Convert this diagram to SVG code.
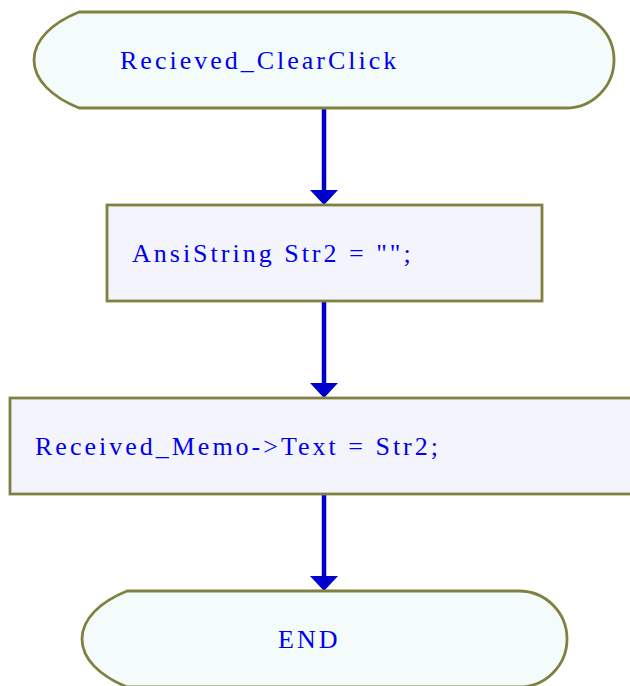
<svg xmlns="http://www.w3.org/2000/svg" width="630" height="686" viewBox="0 0 630 686">
  <style>
    .term { fill: #f3fcfa; stroke: #808040; stroke-width: 2.8; }
    .proc { fill: #f4f4fc; stroke: #808040; stroke-width: 2.8; }
    .lbl { font-family: "Liberation Serif", "Times New Roman", serif; font-size: 26px; letter-spacing: 3px; fill: #0000ee; }
    .flow { stroke: #0000cc; stroke-width: 4.5; fill: none; }
    .head { fill: #0000cc; }
  </style>
  <rect width="630" height="686" fill="#ffffff"/>

  <g id="connectors">
    <line class="flow" x1="324" y1="108" x2="324" y2="192"/>
    <polygon class="head" points="310,190 338,190 324,205"/>
    <line class="flow" x1="324" y1="301" x2="324" y2="385"/>
    <polygon class="head" points="310,383 338,383 324,398"/>
    <line class="flow" x1="324" y1="494" x2="324" y2="578"/>
    <polygon class="head" points="310,576 338,576 324,591"/>
  </g>

  <g id="start">
    <path class="term" d="M79,12 L566,12 A48,48 0 0 1 566,108 L79,108 C52,97 34,80 34,60 C34,40 52,23 79,12 Z"/>
    <text class="lbl" x="120" y="69">Recieved_ClearClick</text>
  </g>

  <g id="assign-str2">
    <rect class="proc" x="107" y="205" width="435" height="96"/>
    <text class="lbl" x="132" y="262">AnsiString Str2 = "";</text>
  </g>

  <g id="set-memo-text">
    <rect class="proc" x="10" y="398" width="630" height="96"/>
    <text class="lbl" x="35" y="455">Received_Memo-&gt;Text = Str2;</text>
  </g>

  <g id="end">
    <path class="term" d="M127,591 L519,591 A48,48 0 0 1 519,687 L127,687 C100,676 82,659 82,639 C82,619 100,602 127,591 Z"/>
    <text class="lbl" x="278" y="648">END</text>
  </g>
</svg>
